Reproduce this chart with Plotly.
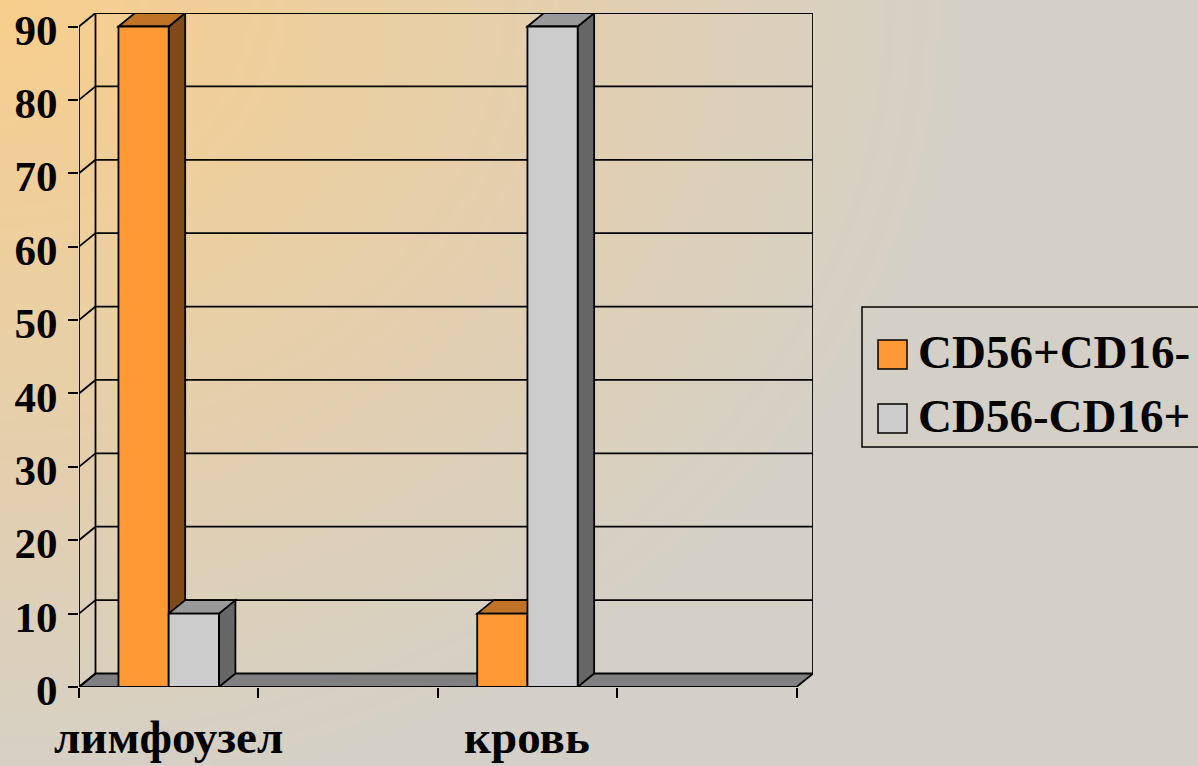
import base64, struct, zlib
import numpy as np
import plotly.graph_objects as go

# ---------------- data ----------------
categories = ["лимфоузел", "", "кровь", ""]
series_names = ["CD56+CD16-", "CD56-CD16+"]
cd56pos_cd16neg = [90, None, 10, None]
cd56neg_cd16pos = [10, None, 90, None]
y_ticks = [0, 10, 20, 30, 40, 50, 60, 70, 80, 90]

# ---------------- style ----------------
W, H = 1198, 766
ML, MR, MT, MB = 79, 385, 13, 79
PW, PH = W - ML - MR, H - MT - MB
DEPTH_PX_X, DEPTH_PX_Y = 16.5, 13.5
FRONT_W = 718.0  # px span of front floor edge
n_cat = len(categories)
x_scale = FRONT_W / n_cat           # px per category unit
ymax_front = max(y_ticks)
y_scale = (PH - DEPTH_PX_Y) / ymax_front
ddx = DEPTH_PX_X / x_scale
ddy = DEPTH_PX_Y / y_scale
x_lo, x_hi = -0.5, n_cat - 0.5
BAR_W = 0.28

front_cols = ["#FF9933", "#CCCCCC"]
top_cols = ["#C07326", "#999999"]
side_cols = ["#7F4A18", "#666666"]
FONT = "Liberation Serif, Times New Roman, serif"
LW = 1.8


def px2x(px):
    return (px - ML) / PW


def py2y(py):
    return 1 - (py - MT) / PH


# ---------------- background gradient image ----------------
def make_png(arr):
    h, w, _ = arr.shape
    raw = b"".join(b"\x00" + arr[r].astype(np.uint8).tobytes() for r in range(h))

    def chunk(t, d):
        return struct.pack(">I", len(d)) + t + d + struct.pack(">I", zlib.crc32(t + d) & 0xFFFFFFFF)

    return (b"\x89PNG\r\n\x1a\n" + chunk(b"IHDR", struct.pack(">IIBBBBB", w, h, 8, 2, 0, 0, 0))
            + chunk(b"IDAT", zlib.compress(raw, 9)) + chunk(b"IEND", b""))


gw, gh = 300, 192
gx = np.linspace(0, W, gw)[None, :]
gy = np.linspace(0, H, gh)[:, None]
t = np.clip(np.sqrt((gx / 1.2) ** 2 + gy ** 2) / 820.0, 0, 1)
c0 = np.array([248, 206, 140.0])
c1 = np.array([212, 208, 200.0])
img = c0[None, None, :] * (1 - t[..., None]) + c1[None, None, :] * t[..., None]
bg_src = "data:image/png;base64," + base64.b64encode(make_png(np.round(img))).decode()

fig = go.Figure()

# ---------------- shapes (3D frame) ----------------
shapes = []
# floor
shapes.append(dict(type="path", xref="x", yref="y", layer="below",
                   path=f"M{x_lo},0 L{x_hi},0 L{x_hi+ddx},{ddy} L{x_lo+ddx},{ddy} Z",
                   fillcolor="#808080", line=dict(color="black", width=LW)))
# back wall verticals
for xv in (x_lo + ddx, x_hi + ddx):
    shapes.append(dict(type="line", xref="x", yref="y", layer="below",
                       x0=xv, x1=xv, y0=ddy, y1=ymax_front + ddy,
                       line=dict(color="black", width=LW)))
# gridlines on back wall + connectors from front axis
for v in y_ticks:
    if v > 0:
        shapes.append(dict(type="line", xref="x", yref="y", layer="below",
                           x0=x_lo + ddx, x1=x_hi + ddx, y0=v + ddy, y1=v + ddy,
                           line=dict(color="black", width=LW)))
    shapes.append(dict(type="line", xref="x", yref="y", layer="below",
                       x0=x_lo, x1=x_lo + ddx, y0=v, y1=v + ddy,
                       line=dict(color="black", width=LW)))
# front vertical axis
shapes.append(dict(type="line", xref="x", yref="y", layer="below",
                   x0=x_lo, x1=x_lo, y0=0, y1=ymax_front,
                   line=dict(color="black", width=LW)))

# bar side / top faces
series = [cd56pos_cd16neg, cd56neg_cd16pos]
offsets = [-BAR_W, 0.0]
for i in range(n_cat):
    for s, vals in enumerate(series):
        v = vals[i]
        if v is None:
            continue
        x0 = i + offsets[s]
        x1 = x0 + BAR_W
        shapes.append(dict(type="path", xref="x", yref="y", layer="below",
                           path=f"M{x1},0 L{x1+ddx},{ddy} L{x1+ddx},{v+ddy} L{x1},{v} Z",
                           fillcolor=side_cols[s], line=dict(color="black", width=LW)))
        shapes.append(dict(type="path", xref="x", yref="y", layer="below",
                           path=f"M{x0},{v} L{x0+ddx},{v+ddy} L{x1+ddx},{v+ddy} L{x1},{v} Z",
                           fillcolor=top_cols[s], line=dict(color="black", width=LW)))

# legend (manual)
LEG_L, LEG_T, LEG_B = 862, 307, 447
shapes.append(dict(type="rect", xref="paper", yref="paper", layer="above",
                   x0=px2x(LEG_L), x1=px2x(W + 10), y0=py2y(LEG_B), y1=py2y(LEG_T),
                   line=dict(color="black", width=1.5), fillcolor="rgba(0,0,0,0)"))
sq_tops = [340, 404]
annotations = []
for s, name in enumerate(series_names):
    shapes.append(dict(type="rect", xref="paper", yref="paper", layer="above",
                       x0=px2x(878), x1=px2x(907), y0=py2y(sq_tops[s] + 29), y1=py2y(sq_tops[s]),
                       line=dict(color="black", width=1.5), fillcolor=front_cols[s]))
    annotations.append(dict(xref="paper", yref="paper", x=px2x(916), y=py2y(sq_tops[s] + 12),
                            xanchor="left", yanchor="middle", showarrow=False,
                            text=f"<b>{name}</b>",
                            font=dict(family=FONT, size=47, color="black")))

# category labels
for i, c in enumerate(categories):
    if c:
        annotations.append(dict(xref="x", yref="paper", x=i, y=0, yanchor="top", yshift=-22,
                                showarrow=False, text=f"<b>{c}</b>",
                                font=dict(family=FONT, size=47, color="black")))

# ---------------- bars (front faces) ----------------
for s, vals in enumerate(series):
    fig.add_trace(go.Bar(x=list(range(n_cat)), y=vals, name=series_names[s],
                         width=BAR_W, offset=offsets[s],
                         marker=dict(color=front_cols[s], line=dict(color="black", width=LW)),
                         showlegend=False, hoverinfo="skip"))

fig.update_layout(
    width=W, height=H, margin=dict(l=ML, r=MR, t=MT, b=MB, pad=0, autoexpand=False),
    paper_bgcolor="#D4D0C8", plot_bgcolor="rgba(0,0,0,0)",
    barmode="overlay", shapes=shapes, annotations=annotations,
    images=[dict(source=bg_src, xref="paper", yref="paper", x=px2x(0), y=py2y(0),
                 sizex=W / PW, sizey=H / PH, xanchor="left", yanchor="top",
                 sizing="stretch", layer="below")],
    xaxis=dict(range=[x_lo, x_hi + ddx], tickmode="array", automargin=False,
               tickvals=[k - 0.5 for k in range(n_cat + 1)], ticks="outside", ticklen=10,
               tickwidth=LW, tickcolor="black", showticklabels=False, showgrid=False,
               zeroline=False, showline=False, fixedrange=True),
    yaxis=dict(range=[0, ymax_front + ddy], tickmode="array", tickvals=y_ticks, automargin=False,
               ticktext=[f"<b>{v}</b>" for v in y_ticks],
               ticks="outside", ticklen=10, tickwidth=LW, tickcolor="black",
               ticklabelstandoff=2, ticklabelshift=3, ticklabeloverflow="allow",
               tickfont=dict(family=FONT, size=43, color="black"),
               showgrid=False, zeroline=False, showline=False, fixedrange=True),
)

fig.write_html("out.html")
